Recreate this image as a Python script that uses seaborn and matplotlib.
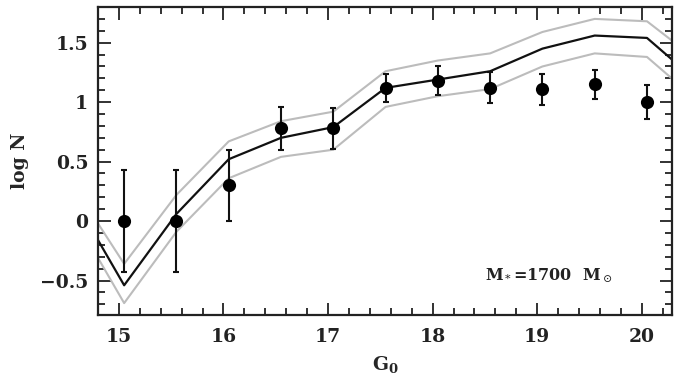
import numpy as np
import pandas as pd
import matplotlib
matplotlib.use("Agg")
import matplotlib.pyplot as plt
from matplotlib.ticker import MultipleLocator
import seaborn as sns

# observed counts
g_obs = [15.05, 15.55, 16.05, 16.55, 17.05, 17.55, 18.05, 18.55, 19.05, 19.55, 20.05]
logn_obs = [0.0, 0.0, 0.30, 0.78, 0.78, 1.12, 1.18, 1.12, 1.11, 1.15, 1.00]
logn_err = [0.43, 0.43, 0.30, 0.18, 0.17, 0.12, 0.12, 0.13, 0.13, 0.12, 0.14]

# model
g_mod = [14.55, 15.05, 15.55, 16.05, 16.55, 17.05, 17.55, 18.05, 18.55, 19.05, 19.55, 20.05, 20.55]
logn_mod = [0.22, -0.54, 0.06, 0.52, 0.70, 0.79, 1.12, 1.19, 1.26, 1.45, 1.56, 1.54, 1.16]
logn_hi = [0.32, -0.36, 0.22, 0.67, 0.84, 0.92, 1.26, 1.35, 1.41, 1.59, 1.70, 1.68, 1.34]
logn_lo = [0.07, -0.69, -0.09, 0.36, 0.54, 0.60, 0.96, 1.05, 1.11, 1.30, 1.41, 1.38, 1.00]

sns.set_style("ticks")
plt.rcParams['font.family'] = ['DejaVu Serif', 'DejaVu Sans']
plt.rcParams['mathtext.fontset'] = 'dejavuserif'

fig = plt.figure(figsize=(6.83, 3.81), dpi=100)
ax = fig.add_axes([0.1435, 0.1732, 0.8405, 0.8084])

dmod = pd.DataFrame({"G": g_mod, "mod": logn_mod, "hi": logn_hi, "lo": logn_lo})
sns.lineplot(data=dmod, x="G", y="hi", ax=ax, color="#bcbcbc", lw=1.5, sort=False)
sns.lineplot(data=dmod, x="G", y="lo", ax=ax, color="#bcbcbc", lw=1.5, sort=False)
sns.lineplot(data=dmod, x="G", y="mod", ax=ax, color="#111111", lw=1.6, sort=False)

ax.errorbar(g_obs, logn_obs, yerr=logn_err, fmt='none', ecolor='#111111',
            elinewidth=1.5, capsize=2.5, capthick=1.5, zorder=4)
dobs = pd.DataFrame({"G": g_obs, "N": logn_obs})
sns.scatterplot(data=dobs, x="G", y="N", ax=ax, color="black", s=90,
                edgecolor="black", linewidth=0, zorder=5)

ax.set_xlim(14.8, 20.29)
ax.set_ylim(-0.79, 1.8)
ax.xaxis.set_major_locator(MultipleLocator(1))
ax.xaxis.set_minor_locator(MultipleLocator(0.2))
ax.yaxis.set_major_locator(MultipleLocator(0.5))
ax.yaxis.set_minor_locator(MultipleLocator(0.1))
ax.set_yticks([-0.5, 0, 0.5, 1, 1.5])
ax.set_yticklabels(["\u22120.5", "0", "0.5", "1", "1.5"])
ax.set_xticks([15, 16, 17, 18, 19, 20])
ax.set_xticklabels(["15", "16", "17", "18", "19", "20"])

ax.tick_params(which='both', direction='in', top=True, right=True, width=1.3, colors='#222222')
ax.tick_params(which='major', length=9, labelsize=13.5)
ax.tick_params(axis='x', which='major', pad=9)
ax.tick_params(axis='y', which='major', pad=7)
ax.tick_params(which='minor', length=5)
for lab in ax.get_xticklabels() + ax.get_yticklabels():
    lab.set_fontweight('bold')
for s in ax.spines.values():
    s.set_linewidth(1.6)
    s.set_color('#222222')

ax.set_xlabel(r"G$_\mathbf{0}$", fontsize=13.5, fontweight='bold', labelpad=6)
ax.set_ylabel("log N", fontsize=13.5, fontweight='bold', labelpad=8)

ax.text(18.5, -0.46, r"M$_*$=1700  M$_\odot$", fontsize=11.5, fontweight='bold',
        color='#222222', va='center', ha='left')

fig.savefig("out.png", dpi=100)
